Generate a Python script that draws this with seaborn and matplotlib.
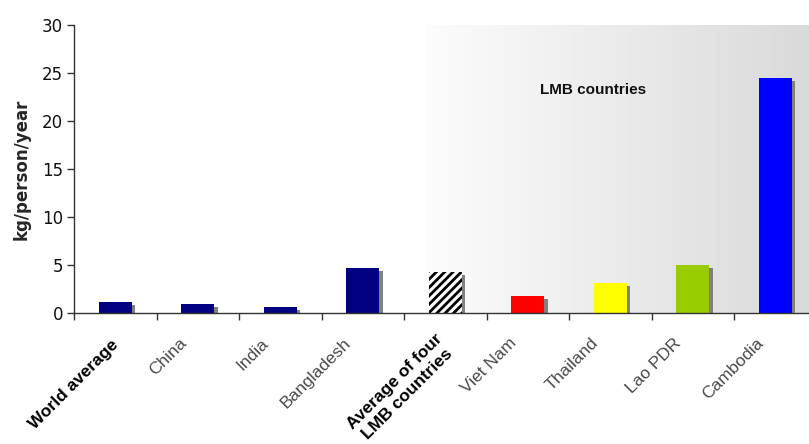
import numpy as np
import pandas as pd
import matplotlib
matplotlib.use("Agg")
import matplotlib.pyplot as plt
import matplotlib.patches as mpatches
import matplotlib.transforms as mtransforms
from matplotlib.colors import LinearSegmentedColormap
import seaborn as sns

# ---- data ----
categories = ["World average", "China", "India", "Bangladesh",
              "Average of four\nLMB countries", "Viet Nam", "Thailand",
              "Lao PDR", "Cambodia"]
values = [1.15, 0.95, 0.65, 4.72, 4.25, 1.8, 3.1, 5.0, 24.45]
bar_colors = ["#000080", "#000080", "#000080", "#000080", "#ffffff",
              "#ff0000", "#ffff00", "#99cc00", "#0000ff"]
bold_labels = ["World average", "Average of four\nLMB countries"]
y_ticks = [0, 5, 10, 15, 20, 25, 30]
region_label = "LMB countries"

sns.set_theme(style="white")
plt.rcParams["font.family"] = ["DejaVu Sans"]
plt.rcParams["hatch.linewidth"] = 2.0

W, H = 809, 444
fig = plt.figure(figsize=(W / 100, H / 100), dpi=100)
left_px, bottom_px, top_px = 74, 313, 25
ax = fig.add_axes([left_px / W, (H - bottom_px) / H, 742.5 / W, (bottom_px - top_px) / H])

df = pd.DataFrame({"cat": categories, "val": values})
sns.barplot(data=df, x="cat", y="val", hue="cat", palette=bar_colors,
            legend=False, width=0.4, ax=ax, saturation=1, zorder=3)

ax.set_xlim(-0.5, len(categories) - 0.5)
ax.set_ylim(0, 30)

# gradient background region
grad = LinearSegmentedColormap.from_list("g", ["#fcfcfc", "#d9d9d9"])
ax.imshow(np.linspace(0, 1, 256).reshape(1, -1), cmap=grad, aspect="auto",
          extent=[3.78, len(categories) - 0.5, 0, 30], zorder=0)

# style bars, shadows
bars = list(ax.patches[:len(categories)])
shadow_off = mtransforms.ScaledTranslation(3.5 / 100, -3 / 100, fig.dpi_scale_trans)
for i, p in enumerate(bars):
    p.set_linewidth(0)
    if bar_colors[i] == "#ffffff":
        p.set_hatch("////")
        p.set_edgecolor("black")
        p.set_linewidth(0)
    sh = mpatches.Rectangle(p.get_xy(), p.get_width(), p.get_height(),
                            facecolor="#808080", edgecolor="none", zorder=2,
                            transform=ax.transData + shadow_off)
    sh.set_clip_path(ax.patch)
    ax.add_artist(sh)

ax.text(5.79, 23.2, region_label, ha="center", va="center", fontsize=11,
        fontweight="bold", family="Liberation Sans", color="#111111", zorder=4)

# axes styling
for s in ["top", "right"]:
    ax.spines[s].set_visible(False)
for s in ["left", "bottom"]:
    ax.spines[s].set_color("#333333")
    ax.spines[s].set_linewidth(1.0)
    ax.spines[s].set_zorder(5)
ax.set_yticks(y_ticks)
ax.tick_params(axis="y", left=True, length=5, width=1, color="#333333",
               labelsize=12, pad=3, labelcolor="#111111")
ax.set_xticks(np.arange(-0.5, len(categories), 1.0), minor=True)
ax.tick_params(axis="x", which="minor", bottom=True, length=5, width=1, color="#333333")
ax.tick_params(axis="x", which="major", bottom=False, length=0, pad=20)
ax.set_xticks(range(len(categories)))
ax.set_xticklabels(categories)
off_bold = mtransforms.ScaledTranslation(1 / 100, -2 / 100, fig.dpi_scale_trans)
off_reg = mtransforms.ScaledTranslation(-14 / 100, 0, fig.dpi_scale_trans)
for lbl in ax.get_xticklabels():
    lbl.set_rotation(45)
    lbl.set_ha("right")
    lbl.set_va("center")
    lbl.set_rotation_mode("anchor")
    lbl.set_family("Liberation Sans")
    if lbl.get_text() in bold_labels:
        lbl.set_fontsize(12.5)
        lbl.set_fontweight("bold")
        lbl.set_color("black")
        lbl.set_multialignment("center")
        lbl.set_linespacing(1.3)
        lbl.set_transform(lbl.get_transform() + off_bold)
    else:
        lbl.set_fontsize(12.5)
        lbl.set_color("#4a4a4a")
        lbl.set_transform(lbl.get_transform() + off_reg)

ax.set_xlabel("")
ax.set_ylabel("kg/person/year", fontsize=12, fontweight="bold", labelpad=8)
ax.set_facecolor("white")
ax.grid(False)

fig.savefig("out.png", dpi=100)
